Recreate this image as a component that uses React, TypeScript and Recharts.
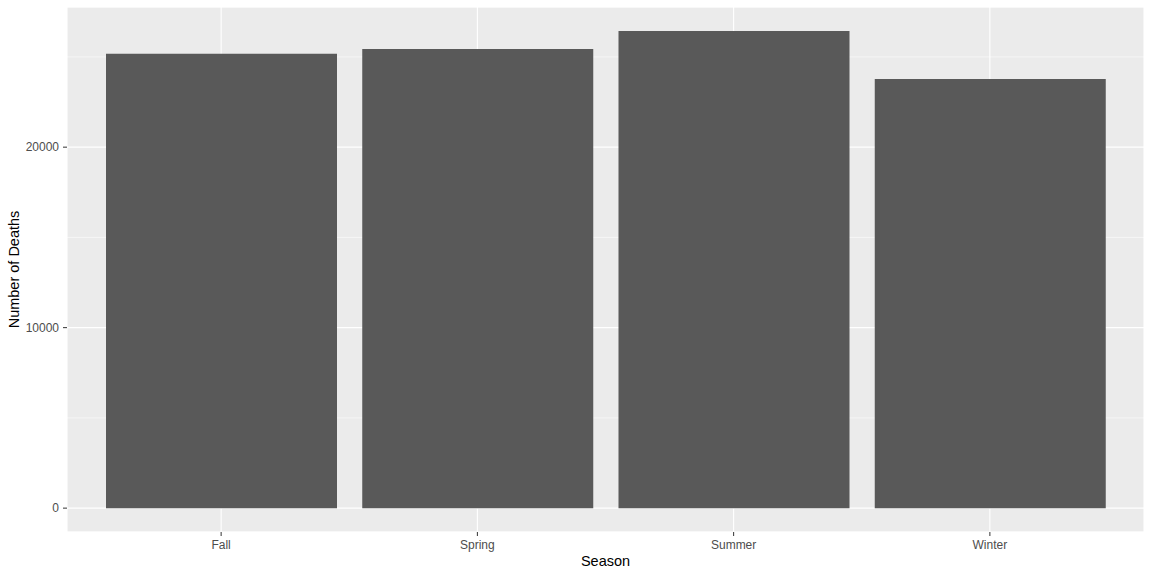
import React from 'react';
import { BarChart, Bar, XAxis, YAxis, CartesianGrid } from 'recharts';

const seasons = ['Fall', 'Spring', 'Summer', 'Winter'];
const deaths = [25170, 25440, 26440, 23780];
const majorTicks = [0, 10000, 20000];
const minorTicks = [5000, 15000, 25000];

const data = seasons.map((season, i) => ({ season, deaths: deaths[i] }));

// ggplot-ish expansion: 5% of the range each side
const yDomain: [number, number] = [-1322, 27766];

const App: React.FC = () => {
  return (
    <div style={{ position: 'absolute', left: 0, top: 0, width: 1152, height: 576, background: '#ffffff' }}>
      <BarChart
        width={1152}
        height={576}
        data={data}
        margin={{ top: 7, right: 8, left: 0, bottom: 0 }}
        style={{ fontFamily: '"Liberation Sans", Arial, sans-serif' }}
      >
        <CartesianGrid
          yAxisId="minor"
          vertical={false}
          fill="#EBEBEB"
          stroke="#ffffff"
          strokeWidth={0.55}
        />
        <CartesianGrid stroke="#ffffff" strokeWidth={1.1} />
        <XAxis
          dataKey="season"
          padding={{ left: 26, right: 26 }}
          height={44}
          axisLine={false}
          tickLine={{ stroke: '#333333', strokeWidth: 1 }}
          tickSize={4}
          tickMargin={4}
          tick={{ fill: '#4D4D4D', fontSize: 12 }}
          label={{ value: 'Season', position: 'insideBottom', offset: 10, fill: '#000000', fontSize: 14.5 }}
        />
        <YAxis
          type="number"
          domain={yDomain}
          ticks={majorTicks}
          allowDataOverflow
          width={67}
          axisLine={false}
          tickLine={{ stroke: '#333333', strokeWidth: 1 }}
          tickSize={4}
          tickMargin={4}
          tick={{ fill: '#4D4D4D', fontSize: 12 }}
          label={{
            value: 'Number of Deaths',
            angle: -90,
            position: 'insideLeft',
            offset: 14,
            fill: '#000000',
            fontSize: 14.5,
            style: { textAnchor: 'middle' },
          }}
        />
        <YAxis yAxisId="minor" type="number" domain={yDomain} ticks={minorTicks} allowDataOverflow hide />
        <Bar dataKey="deaths" fill="#595959" barSize={231} isAnimationActive={false} />
      </BarChart>
    </div>
  );
};

export default App;
